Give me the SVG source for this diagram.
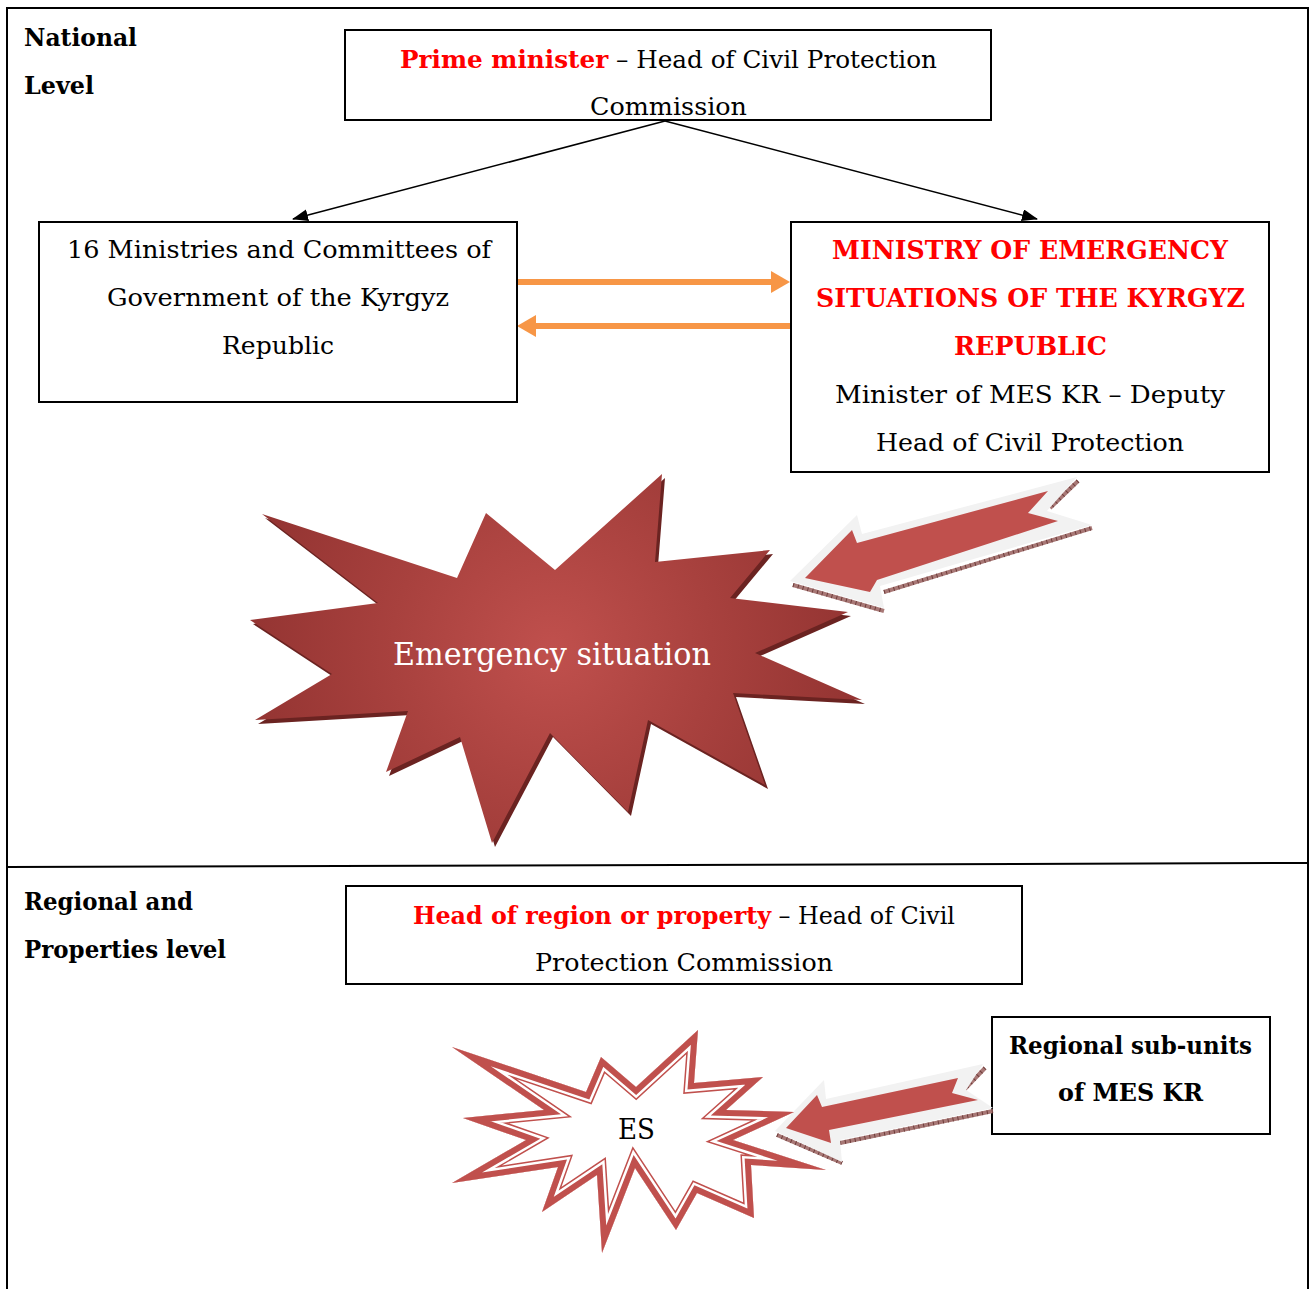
<svg xmlns="http://www.w3.org/2000/svg" width="1310" height="1289" viewBox="0 0 1310 1289">
<style>
.box{fill:#fff;stroke:#000;stroke-width:2}
.t{font-family:"DejaVu Serif","Liberation Serif",serif;font-size:25px;fill:#000}
.b{font-family:"DejaVu Serif","Liberation Serif",serif;font-weight:bold;font-size:25px;fill:#000}
.r{font-family:"DejaVu Serif","Liberation Serif",serif;font-weight:bold;fill:#ff0000}
.frame{stroke:#000;stroke-width:2;fill:none}
.blk{stroke:#000;stroke-width:1.5;fill:none}
.org{stroke:#f79646;stroke-width:6;fill:none}
.g3d{fill:#f2f2f2}
.red3d{fill:#c0504d}
.hatch{stroke:#a87876;stroke-width:4;fill:none}
.hatchd{stroke:#6e3c3a;stroke-width:4;stroke-dasharray:1 4;fill:none}
</style>
<defs>
<marker id="ab" markerWidth="16" markerHeight="12" refX="15" refY="6" orient="auto" markerUnits="userSpaceOnUse" viewBox="0 0 16 12">
<path d="M0,0 L16,6 L0,12 Z" fill="#000"/>
</marker>
<radialGradient id="sg" cx="552" cy="650" r="320" gradientUnits="userSpaceOnUse">
<stop offset="0" stop-color="#c0504d"/>
<stop offset="0.5" stop-color="#a8413e"/>
<stop offset="1" stop-color="#923331"/>
</radialGradient>
<clipPath id="esclip">
<polygon points="452,1047 586,1092 601,1057 636,1087 698,1030 694,1083 763,1077 726,1110 794,1112 733,1140 826,1170 751,1165 754,1218 697,1193 676,1230 635,1168 602,1253 597,1175 542,1212 558,1167 452,1183 526,1140 463,1118 544,1110"/>
</clipPath>
</defs>
<rect width="1310" height="1289" fill="#fff"/>

<g id="frame">
<line class="frame" x1="6" y1="8" x2="1309" y2="8"/>
<line class="frame" x1="7" y1="8" x2="7" y2="1289"/>
<line class="frame" x1="1308" y1="8" x2="1308" y2="1289"/>
<line class="frame" x1="7" y1="867" x2="1308" y2="863"/>
</g>

<g id="label-national">
<text class="b" x="24" y="46" textLength="113" lengthAdjust="spacingAndGlyphs">National</text>
<text class="b" x="24" y="94" textLength="70" lengthAdjust="spacingAndGlyphs">Level</text>
</g>
<g id="label-regional">
<text class="b" x="24" y="910" textLength="169" lengthAdjust="spacingAndGlyphs">Regional and</text>
<text class="b" x="24" y="958" textLength="202" lengthAdjust="spacingAndGlyphs">Properties level</text>
</g>

<g id="connectors">
<line class="blk" x1="665" y1="121" x2="293" y2="219" marker-end="url(#ab)"/>
<line class="blk" x1="665" y1="121" x2="1037" y2="219" marker-end="url(#ab)"/>
<line class="org" x1="517" y1="282" x2="772" y2="282"/>
<polygon points="771,271 790,282 771,293" fill="#f79646"/>
<line class="org" x1="790" y1="326" x2="535" y2="326"/>
<polygon points="536,315 517,326 536,337" fill="#f79646"/>
</g>

<g id="node-pm">
<rect class="box" x="345" y="30" width="646" height="90"/>
<text class="t" x="400" y="68" textLength="537" lengthAdjust="spacingAndGlyphs"><tspan class="r" font-size="25">Prime minister</tspan> – Head of Civil Protection</text>
<text class="t" x="590" y="115" textLength="157" lengthAdjust="spacingAndGlyphs">Commission</text>
</g>

<g id="node-ministries">
<rect class="box" x="39" y="222" width="478" height="180"/>
<text class="t" x="67" y="258" textLength="424" lengthAdjust="spacingAndGlyphs">16 Ministries and Committees of</text>
<text class="t" x="107" y="306" textLength="342" lengthAdjust="spacingAndGlyphs">Government of the Kyrgyz</text>
<text class="t" x="222" y="354" textLength="112" lengthAdjust="spacingAndGlyphs">Republic</text>
</g>

<g id="node-mes">
<rect class="box" x="791" y="222" width="478" height="250"/>
<text class="r" font-size="26" x="832" y="259" textLength="396" lengthAdjust="spacingAndGlyphs">MINISTRY OF EMERGENCY</text>
<text class="r" font-size="26" x="816" y="307" textLength="429" lengthAdjust="spacingAndGlyphs">SITUATIONS OF THE KYRGYZ</text>
<text class="r" font-size="26" x="954" y="355" textLength="153" lengthAdjust="spacingAndGlyphs">REPUBLIC</text>
<text class="t" x="835" y="403" textLength="390" lengthAdjust="spacingAndGlyphs">Minister of MES KR – Deputy</text>
<text class="t" x="876" y="451" textLength="308" lengthAdjust="spacingAndGlyphs">Head of Civil Protection</text>
</g>

<g id="arrow-mes">
<polyline class="hatch" points="793,585 884,611"/>
<polyline class="hatchd" points="793,585 884,611"/>
<polyline class="hatch" points="884,592 1092,528"/>
<polyline class="hatchd" points="884,592 1092,528"/>
<polyline class="hatch" points="1078,481 1050,508"/>
<polyline class="hatchd" points="1078,481 1050,508"/>
<polygon class="g3d" points="790,581 857,515 862,534 1077,477 1047,511 1092,525 880,586 884,608"/>
<polygon class="red3d" points="805,578 852,530 857,543 1048,491 1028,513 1058,521 877,580 870,592"/>
</g>

<g id="node-emergency">
<polygon transform="translate(3,4)" fill="#6b2321" points="262,514 378,603 250,620 332,674 255,720 408,711 386,772 460,737 492,843 550,733 628,812 648,720 765,785 733,693 862,700 755,653 848,612 730,598 770,550 655,562 662,474 555,570 486,513 457,578"/>
<polygon fill="url(#sg)" points="262,514 378,603 250,620 332,674 255,720 408,711 386,772 460,737 492,843 550,733 628,812 648,720 765,785 733,693 862,700 755,653 848,612 730,598 770,550 655,562 662,474 555,570 486,513 457,578"/>
<text x="393" y="665" font-family="DejaVu Serif, Liberation Serif, serif" font-size="31" fill="#fff" textLength="318" lengthAdjust="spacingAndGlyphs">Emergency situation</text>
</g>

<g id="node-regional-head">
<rect class="box" x="346" y="886" width="676" height="98"/>
<text class="t" x="413" y="924" textLength="542" lengthAdjust="spacingAndGlyphs"><tspan class="r" font-size="25">Head of region or property</tspan> – Head of Civil</text>
<text class="t" x="535" y="971" textLength="298" lengthAdjust="spacingAndGlyphs">Protection Commission</text>
</g>

<g id="node-subunits">
<rect class="box" x="992" y="1017" width="278" height="117"/>
<text class="b" x="1009" y="1054" textLength="243" lengthAdjust="spacingAndGlyphs">Regional sub-units</text>
<text class="b" x="1058" y="1101" textLength="145" lengthAdjust="spacingAndGlyphs">of MES KR</text>
</g>

<g id="arrow-sub">
<polyline class="hatch" points="777,1135 842,1163"/>
<polyline class="hatchd" points="777,1135 842,1163"/>
<polyline class="hatch" points="840,1143 993,1111"/>
<polyline class="hatchd" points="840,1143 993,1111"/>
<polyline class="hatch" points="985,1068 962,1092"/>
<polyline class="hatchd" points="985,1068 962,1092"/>
<polygon class="g3d" points="775,1131 824,1080 826,1099 983,1064 966,1090 993,1108 840,1140 842,1162"/>
<polygon class="red3d" points="786,1128 817,1095 822,1107 958,1078 952,1093 978,1100 829,1130 831,1143"/>
</g>

<g id="node-es">
<g clip-path="url(#esclip)">
<polygon fill="#fff" points="452,1047 586,1092 601,1057 636,1087 698,1030 694,1083 763,1077 726,1110 794,1112 733,1140 826,1170 751,1165 754,1218 697,1193 676,1230 635,1168 602,1253 597,1175 542,1212 558,1167 452,1183 526,1140 463,1118 544,1110"/>
<polygon fill="none" stroke="#c0504d" stroke-width="20" stroke-linejoin="miter" stroke-miterlimit="20" points="452,1047 586,1092 601,1057 636,1087 698,1030 694,1083 763,1077 726,1110 794,1112 733,1140 826,1170 751,1165 754,1218 697,1193 676,1230 635,1168 602,1253 597,1175 542,1212 558,1167 452,1183 526,1140 463,1118 544,1110"/>
<polygon fill="none" stroke="#fff" stroke-width="17" stroke-linejoin="miter" stroke-miterlimit="20" points="452,1047 586,1092 601,1057 636,1087 698,1030 694,1083 763,1077 726,1110 794,1112 733,1140 826,1170 751,1165 754,1218 697,1193 676,1230 635,1168 602,1253 597,1175 542,1212 558,1167 452,1183 526,1140 463,1118 544,1110"/>
<polygon fill="none" stroke="#c0504d" stroke-width="12" stroke-linejoin="miter" stroke-miterlimit="20" points="452,1047 586,1092 601,1057 636,1087 698,1030 694,1083 763,1077 726,1110 794,1112 733,1140 826,1170 751,1165 754,1218 697,1193 676,1230 635,1168 602,1253 597,1175 542,1212 558,1167 452,1183 526,1140 463,1118 544,1110"/>
</g>
<text x="618" y="1139" font-family="DejaVu Serif, Liberation Serif, serif" font-size="27" fill="#000" textLength="37" lengthAdjust="spacingAndGlyphs">ES</text>
</g>
</svg>
